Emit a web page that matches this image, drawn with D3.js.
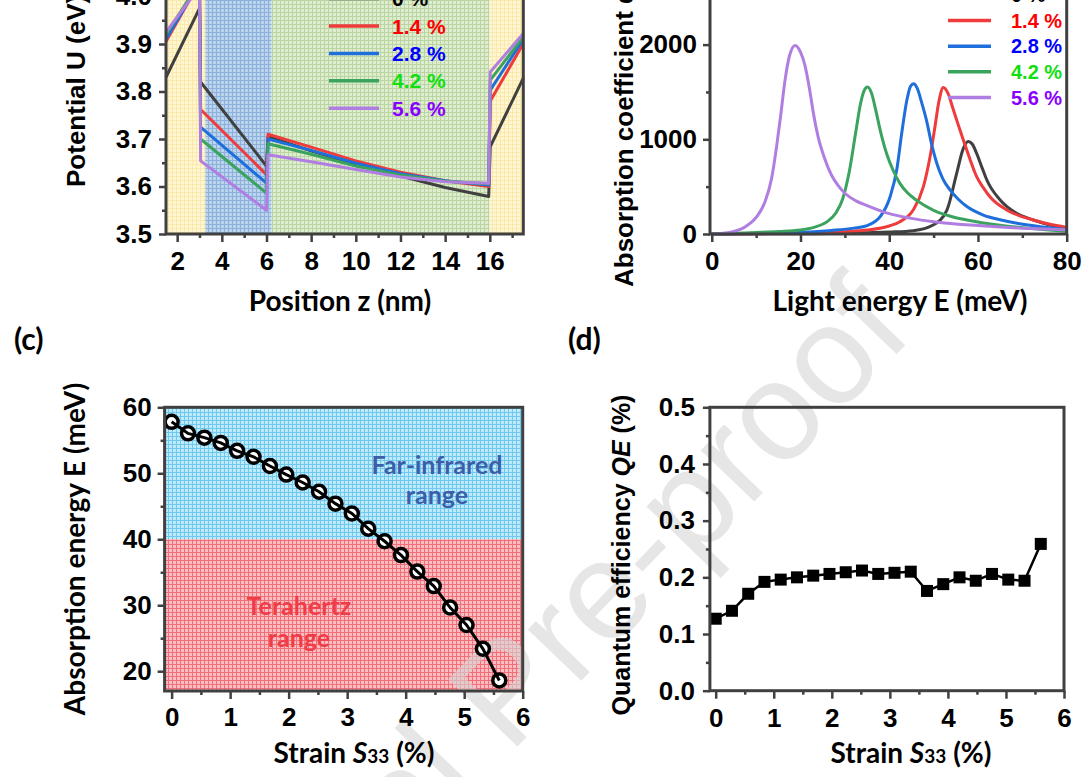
<!DOCTYPE html>
<html>
<head>
<meta charset="utf-8">
<script src="https://cdn.jsdelivr.net/npm/d3@7"></script>
<style>body{margin:0;background:#fff;}</style>
</head>
<body>
<script>
// ---------- data ----------
// (a) conduction band potential along z for each strain
const zPos     = [1.5, 3.0, 3.05, 6.0, 6.07, 8, 10, 12, 14, 15.95, 16.02, 17.5];
const uS0      = [3.83, 3.975, 3.82, 3.643, 3.705, 3.675, 3.646, 3.622, 3.598, 3.579, 3.684, 3.828];
const uS14     = [3.905, 4.03, 3.762, 3.625, 3.71, 3.683, 3.654, 3.63, 3.612, 3.600, 3.78, 3.901];
const uS28     = [3.91, 4.03, 3.725, 3.607, 3.70, 3.676, 3.649, 3.627, 3.612, 3.603, 3.803, 3.91];
const uS42     = [3.92, 4.03, 3.70, 3.586, 3.69, 3.668, 3.643, 3.624, 3.611, 3.606, 3.824, 3.915];
const uS56     = [3.925, 4.02, 3.654, 3.55, 3.667, 3.652, 3.636, 3.62, 3.61, 3.607, 3.841, 3.922];
const strainLabels = ["0 %", "1.4 %", "2.8 %", "4.2 %", "5.6 %"];
// layer boundaries (nm)
const layerEdges = [1.5, 3.26, 6.23, 15.99, 17.5];

// (b) absorption spectra
const eS0  = [0, 20, 30, 40, 45.4, 49.9, 53, 55.2, 56.7, 57.8, 58.7, 59.7, 61, 62, 65, 68.7, 72.5, 76, 80];
const aS0  = [0, 3, 8, 20, 35, 95, 253, 641, 905, 977, 950, 852, 690, 570, 359, 218, 148, 98, 60];
const eS14 = [0, 10, 20, 30, 35, 40, 42.4, 45.4, 47.7, 49.2, 50.2, 51.2, 52.2, 53.2, 54.4, 55.5, 56.7, 58.2, 59.7, 61.2, 62.7, 66.5, 72.5, 76, 80];
const aS14 = [0, 3, 10, 25, 42, 85, 130, 253, 500, 816, 1100, 1400, 1548, 1490, 1320, 1160, 993, 790, 605, 490, 394, 253, 148, 105, 70];
const eS28 = [0, 10, 20, 27, 32, 35, 38, 40.2, 41.7, 42.8, 44, 44.8, 45.5, 46.3, 47.3, 48.4, 49.5, 50.7, 52, 53.7, 55.5, 57.5, 61.2, 65, 68.8, 74, 80];
const aS28 = [0, 6, 18, 38, 62, 88, 185, 394, 680, 1060, 1420, 1560, 1587, 1540, 1390, 1200, 960, 750, 590, 465, 370, 290, 200, 150, 113, 78, 48];
const eS42 = [0, 5, 10, 15, 20, 23, 26, 28, 29.5, 31, 32.5, 33.5, 34.3, 35.1, 36, 37, 38, 39.4, 41, 42.4, 44, 46.2, 50, 54, 57.5, 65, 72, 80];
const aS42 = [0, 8, 16, 26, 42, 70, 130, 225, 370, 660, 1090, 1370, 1510, 1552, 1490, 1300, 1090, 850, 660, 535, 440, 355, 250, 185, 148, 92, 58, 30];
const eS56 = [0, 2.5, 5, 7.5, 10, 12, 13.5, 14.6, 15.5, 16.5, 17.5, 18.8, 20, 21, 22, 23, 24, 25.5, 27, 28.5, 30, 32.5, 35, 40, 45, 50, 55, 60, 65, 70, 75, 80];
const aS56 = [0, 8, 28, 75, 175, 340, 590, 920, 1240, 1620, 1880, 1990, 1920, 1780, 1540, 1250, 1020, 790, 620, 510, 430, 350, 300, 215, 165, 130, 105, 90, 75, 62, 52, 44];

// (c), (d) versus strain
const strain    = [0, 0.28, 0.56, 0.84, 1.12, 1.40, 1.68, 1.96, 2.24, 2.52, 2.80, 3.08, 3.36, 3.64, 3.92, 4.20, 4.48, 4.76, 5.04, 5.32, 5.60];
const absEnergy = [57.8, 56.05, 55.4, 54.6, 53.4, 52.5, 51.1, 49.8, 48.6, 47.2, 45.4, 43.9, 41.6, 39.7, 37.6, 35.1, 32.9, 29.65, 27.0, 23.4, 18.6];
const qe        = [0.127, 0.141, 0.171, 0.192, 0.196, 0.200, 0.203, 0.206, 0.209, 0.212, 0.206, 0.208, 0.210, 0.176, 0.188, 0.200, 0.194, 0.206, 0.196, 0.194, 0.259];

const lineColors = ["#404040", "#ef3b3b", "#1e6fdc", "#3aa35e", "#b07ee0"];
const textColors = ["#000000", "#ff0000", "#0000ff", "#10e010", "#8a00ff"];

// ---------- setup ----------
const axisCol = "#404040";
const tickFont = "'Liberation Sans', Arial, sans-serif";
const titleFont = "Lato, 'Open Sans', sans-serif";
const tickSize = 26;

const svg = d3.select("body").append("svg")
    .attr("width", 1086)
    .attr("height", 777);

const defs = svg.append("defs");
function gridPattern(id, bg, line) {
    const p = defs.append("pattern").attr("id", id)
        .attr("width", 4).attr("height", 4)
        .attr("patternUnits", "userSpaceOnUse");
    p.append("rect").attr("width", 4).attr("height", 4).attr("fill", bg);
    p.append("path").attr("d", "M0,0.5H4M0.5,0V4")
        .attr("stroke", line).attr("stroke-width", 1);
}
gridPattern("gYellow", "#fff6d4", "#fce8aa");
gridPattern("gBlue", "#bcd3ee", "#8cb0dc");
gridPattern("gGreen", "#deecd0", "#bad4a2");
gridPattern("gCyan", "#beeafb", "#6ec8f0");
gridPattern("gRed", "#fabec2", "#f06e78");

const bgLayer = svg.append("g");
const wmLayer = svg.append("g");
const fgLayer = svg.append("g");

function styleAxis(a, size) {
    a.select(".domain").remove();
    a.attr("font-size", null).attr("font-family", null);
    a.selectAll(".tick line").attr("stroke", axisCol).attr("stroke-width", 2.5);
    a.selectAll(".tick text")
        .attr("font-family", tickFont)
        .attr("font-weight", "bold")
        .attr("font-size", size)
        .attr("fill", "#000");
}

function drawAxes(g, x, y, o) {
    const yb = y.range()[0], yt = y.range()[1];
    const xl = x.range()[0], xr = x.range()[1];
    g.append("g").attr("transform", `translate(0,${yb})`)
        .call(d3.axisBottom(x).tickValues(o.xMinor).tickSize(4).tickFormat(""))
        .call(a => styleAxis(a, tickSize));
    g.append("g").attr("transform", `translate(0,${yb})`)
        .call(d3.axisBottom(x).tickValues(o.xMajor).tickSize(8).tickPadding(o.xPad).tickFormat(o.xFmt))
        .call(a => styleAxis(a, tickSize));
    g.append("g").attr("transform", `translate(${xl},0)`)
        .call(d3.axisLeft(y).tickValues(o.yMinor).tickSize(4).tickFormat(""))
        .call(a => styleAxis(a, tickSize));
    g.append("g").attr("transform", `translate(${xl},0)`)
        .call(d3.axisLeft(y).tickValues(o.yMajor).tickSize(7).tickPadding(o.yPad).tickFormat(o.yFmt))
        .call(a => styleAxis(a, tickSize));
    g.append("rect")
        .attr("x", xl).attr("y", yt)
        .attr("width", xr - xl).attr("height", yb - yt)
        .attr("fill", "none").attr("stroke", axisCol).attr("stroke-width", 3);
}

function legend(g, x0, x1, xt, y0, dy, fs) {
    strainLabels.forEach(function (t, i) {
        const yy = y0 + i * dy;
        g.append("line").attr("x1", x0).attr("x2", x1).attr("y1", yy).attr("y2", yy)
            .attr("stroke", lineColors[i]).attr("stroke-width", 3.5);
        g.append("text").attr("x", xt).attr("y", yy + fs * 0.36)
            .attr("font-family", tickFont).attr("font-weight", "bold")
            .attr("font-size", fs).attr("fill", textColors[i]).text(t);
    });
}

function strainTitle(g, x, y) {
    const t = g.append("text").attr("x", x).attr("y", y).attr("text-anchor", "middle")
        .attr("font-family", titleFont).attr("font-weight", "bold").attr("font-size", 28);
    t.append("tspan").text("Strain ");
    t.append("tspan").attr("font-style", "italic").text("S");
    t.append("tspan").attr("font-size", 19).text("33");
    t.append("tspan").text(" (%)");
}

// ---------- (a) potential profile ----------
const xA = d3.scaleLinear().domain([1.5, 17.5]).range([166, 523.3]);
const yA = d3.scaleLinear().domain([3.5, 4.1]).range([234, -51]);
const layerFill = ["url(#gYellow)", "url(#gBlue)", "url(#gGreen)", "url(#gYellow)"];
bgLayer.selectAll(".layerA").data(layerFill).enter().append("rect")
    .attr("x", (d, i) => xA(layerEdges[i]))
    .attr("width", (d, i) => xA(layerEdges[i + 1]) - xA(layerEdges[i]))
    .attr("y", yA(4.1)).attr("height", yA(3.5) - yA(4.1))
    .attr("fill", d => d);

const gA = fgLayer.append("g");
const lineA = d3.line().x((d, i) => xA(zPos[i])).y(d => yA(d));
[uS0, uS14, uS28, uS42, uS56].forEach(function (u, k) {
    gA.append("path").attr("d", lineA(u)).attr("fill", "none")
        .attr("stroke", lineColors[k]).attr("stroke-width", 3)
        .attr("stroke-linejoin", "round");
});
drawAxes(gA, xA, yA, {
    xMajor: [2, 4, 6, 8, 10, 12, 14, 16], xMinor: [3, 5, 7, 9, 11, 13, 15, 17],
    yMajor: [3.5, 3.6, 3.7, 3.8, 3.9, 4.0], yMinor: [3.55, 3.65, 3.75, 3.85, 3.95, 4.05],
    xFmt: d3.format("d"), yFmt: d3.format(".1f"), xPad: 10, yPad: 7
});
legend(gA, 329, 379, 392, -1.4, 27.4, 21);
gA.append("text").attr("transform", "translate(85,187) rotate(-90)")
    .attr("font-family", tickFont).attr("font-weight", "bold").attr("font-size", 26)
    .text("Potential U (eV)");
gA.append("text").attr("x", 340).attr("y", 311).attr("text-anchor", "middle")
    .attr("font-family", titleFont).attr("font-weight", "bold").attr("font-size", 28)
    .text("Position z (nm)");

// ---------- (b) absorption spectra ----------
const xB = d3.scaleLinear().domain([-0.4, 80]).range([710, 1066.7]);
const yB = d3.scaleLinear().domain([0, 2600]).range([234, -12.2]);
const gB = fgLayer.append("g");
const specE = [eS0, eS14, eS28, eS42, eS56];
const specA = [aS0, aS14, aS28, aS42, aS56];
specA.forEach(function (a, k) {
    const lineB = d3.line().curve(d3.curveMonotoneX)
        .x((d, i) => xB(specE[k][i])).y(d => yB(d));
    gB.append("path").attr("d", lineB(a)).attr("fill", "none")
        .attr("stroke", lineColors[k]).attr("stroke-width", 3);
});
drawAxes(gB, xB, yB, {
    xMajor: [0, 20, 40, 60, 80], xMinor: [10, 30, 50, 70],
    yMajor: [0, 1000, 2000], yMinor: [500, 1500, 2500],
    xFmt: d3.format("d"), yFmt: d3.format("d"), xPad: 10, yPad: 6
});
legend(gB, 948, 991, 1011, -5, 25.6, 20);
gB.append("text").attr("transform", "translate(633,287) rotate(-90)")
    .attr("font-family", tickFont).attr("font-weight", "bold").attr("font-size", 26)
    .text("Absorption coefficient α (cm⁻¹)");
gB.append("text").attr("x", 900).attr("y", 311).attr("text-anchor", "middle")
    .attr("font-family", titleFont).attr("font-weight", "bold").attr("font-size", 28)
    .text("Light energy E (meV)");

// ---------- (c) absorption energy vs strain ----------
const xC = d3.scaleLinear().domain([-0.12, 6]).range([164.6, 522.7]);
const yC = d3.scaleLinear().domain([17, 60]).range([691, 407.3]);
bgLayer.append("rect").attr("x", xC(-0.12)).attr("width", xC(6) - xC(-0.12))
    .attr("y", yC(60)).attr("height", yC(40) - yC(60)).attr("fill", "url(#gCyan)");
bgLayer.append("rect").attr("x", xC(-0.12)).attr("width", xC(6) - xC(-0.12))
    .attr("y", yC(40)).attr("height", yC(17) - yC(40)).attr("fill", "url(#gRed)");
const regionText = [
    ["Far-infrared", 437, 474, "#3d5da8"], ["range", 437, 504, "#3d5da8"],
    ["Terahertz", 299, 615, "#f03c46"], ["range", 299, 647, "#f03c46"]
];
regionText.forEach(function (r) {
    bgLayer.append("text").attr("x", r[1]).attr("y", r[2]).attr("text-anchor", "middle")
        .attr("font-family", titleFont).attr("font-weight", "bold").attr("font-size", 25)
        .attr("fill", r[3]).text(r[0]);
});

const gC = fgLayer.append("g");
gC.selectAll("circle").data(absEnergy).enter().append("circle")
    .attr("cx", (d, i) => xC(strain[i])).attr("cy", d => yC(d))
    .attr("r", 6.5).attr("fill", "#fff").attr("stroke", "#000").attr("stroke-width", 3.5);
gC.append("path")
    .attr("d", d3.line().x((d, i) => xC(strain[i])).y(d => yC(d))(absEnergy))
    .attr("fill", "none").attr("stroke", "#000").attr("stroke-width", 3);
drawAxes(gC, xC, yC, {
    xMajor: [0, 1, 2, 3, 4, 5, 6], xMinor: [0.5, 1.5, 2.5, 3.5, 4.5, 5.5],
    yMajor: [20, 30, 40, 50, 60], yMinor: [25, 35, 45, 55],
    xFmt: d3.format("d"), yFmt: d3.format("d"), xPad: 9, yPad: 6
});
gC.append("text").attr("transform", "translate(85,549) rotate(-90)")
    .attr("text-anchor", "middle")
    .attr("font-family", titleFont).attr("font-weight", "bold").attr("font-size", 28)
    .text("Absorption energy E (meV)");
strainTitle(gC, 354, 763);
gC.append("text").attr("x", 14).attr("y", 350)
    .attr("font-family", titleFont).attr("font-weight", "bold").attr("font-size", 30)
    .text("(c)");

// ---------- (d) quantum efficiency vs strain ----------
const xD = d3.scaleLinear().domain([-0.1, 6]).range([709.9, 1064]);
const yD = d3.scaleLinear().domain([0, 0.5]).range([690.7, 407.3]);
const gD = fgLayer.append("g");
gD.append("path")
    .attr("d", d3.line().x((d, i) => xD(strain[i])).y(d => yD(d))(qe))
    .attr("fill", "none").attr("stroke", "#000").attr("stroke-width", 2.5);
gD.selectAll("rect.pt").data(qe).enter().append("rect").attr("class", "pt")
    .attr("x", (d, i) => xD(strain[i]) - 6).attr("y", d => yD(d) - 6)
    .attr("width", 12).attr("height", 12).attr("fill", "#000");
drawAxes(gD, xD, yD, {
    xMajor: [0, 1, 2, 3, 4, 5, 6], xMinor: [0.5, 1.5, 2.5, 3.5, 4.5, 5.5],
    yMajor: [0, 0.1, 0.2, 0.3, 0.4, 0.5], yMinor: [0.05, 0.15, 0.25, 0.35, 0.45],
    xFmt: d3.format("d"), yFmt: d3.format(".1f"), xPad: 10, yPad: 8
});
const tDy = gD.append("text").attr("transform", "translate(630,555) rotate(-90)")
    .attr("text-anchor", "middle")
    .attr("font-family", tickFont).attr("font-weight", "bold").attr("font-size", 25);
tDy.append("tspan").text("Quantum efficiency ");
tDy.append("tspan").attr("font-style", "italic").text("QE");
tDy.append("tspan").text(" (%)");
strainTitle(gD, 911, 763);
gD.append("text").attr("x", 568).attr("y", 350)
    .attr("font-family", titleFont).attr("font-weight", "bold").attr("font-size", 30)
    .text("(d)");

// watermark
wmLayer.append("text")
    .attr("transform", "translate(915,335) rotate(-46)")
    .attr("text-anchor", "end")
    .attr("font-family", tickFont).attr("font-size", 140)
    .attr("fill", "#d6d6d6").attr("opacity", 0.6)
    .text("Journal Pre-proof");
</script>
</body>
</html>
